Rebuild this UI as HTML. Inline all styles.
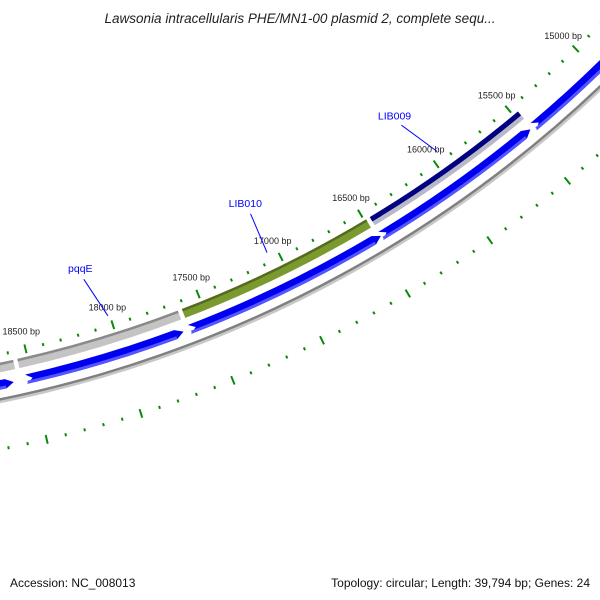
<!DOCTYPE html>
<html><head><meta charset="utf-8"><style>
html,body{margin:0;padding:0;background:#fff;}
svg{display:block;font-family:"Liberation Sans","DejaVu Sans",sans-serif;}
</style></head><body>
<svg id="map" width="600" height="600" viewBox="0 0 600 600">
<text x="300" y="23" text-anchor="middle" font-size="13.5" font-style="italic" fill="#222">Lawsonia intracellularis PHE/MN1-00 plasmid 2, complete sequ...</text>
<g id="layer"></g>
<text x="10" y="587" font-size="12" fill="#111">Accession: NC_008013</text>
<text x="590" y="587" text-anchor="end" font-size="12" fill="#111">Topology: circular; Length: 39,794 bp; Genes: 24</text>
</svg>
<script>
const tickStart = 14300;
const tickEnd = 18900;
const majorTicks = [15000, 15500, 16000, 16500, 17000, 17500, 18000, 18500];
const featureStarts = [15455, 16477, 17625, 18568];
const featureEnds = [16477, 17625, 18568, 19200];
const featureKinds = ["navy", "green", "gray", "gray"];
const cdsStarts = [14300, 15477, 16466, 17648, 18602];
const cdsEnds = [15455, 16466, 17614, 18534, 19200];
const geneNames = ["pqqE", "LIB010", "LIB009"];
const geneLabelBp = [18080, 17045, 16034];
const geneTargetBp = [18011, 17057, 15955];

const CX = -244, CY = -800;
const NS = "http://www.w3.org/2000/svg";
const layer = document.getElementById('layer');
function ang(bp){ return (46 + (bp - 15000) * 4.4 / 500) * Math.PI / 180; }
function P(r, bp){ const a = ang(bp); return [CX + r*Math.cos(a), CY + r*Math.sin(a)]; }
function f(p){ return p[0].toFixed(2)+","+p[1].toFixed(2); }
function mk(tag, attrs){ const e = document.createElementNS(NS, tag); for (const k in attrs) e.setAttribute(k, attrs[k]); layer.appendChild(e); return e; }
function band(r1, r2, b1, b2){
  return "M"+f(P(r2,b1))+" A"+r2+" "+r2+" 0 0 1 "+f(P(r2,b2))+" L"+f(P(r1,b2))+" A"+r1+" "+r1+" 0 0 0 "+f(P(r1,b1))+" Z";
}
function arc(r, b1, b2){ return "M"+f(P(r,b1))+" A"+r+" "+r+" 0 0 1 "+f(P(r,b2)); }

// backbone
let e = mk('path', {d: arc(1226.5, 14000, 19500), stroke: '#c8c8c8', 'stroke-width': 2.5, fill: 'none'});


e = mk('path', {d: arc(1224, 14000, 19500), stroke: '#808080', 'stroke-width': 2.5, fill: 'none'});



// ticks
for (let bp = tickStart; bp <= tickEnd; bp += 100) {
  const major = majorTicks.indexOf(bp) >= 0 || bp % 500 === 0;
  const h = major ? 4.5 : 1.5;
  let t = mk('path', {d: "M"+f(P(1180-h,bp))+" L"+f(P(1180+h,bp)), stroke: '#0a8a0a', 'stroke-width': 2});
  
  
  t = mk('path', {d: "M"+f(P(1273-h,bp))+" L"+f(P(1273+h,bp)), stroke: '#0a8a0a', 'stroke-width': 2});
  
  
}
majorTicks.forEach(bp => {
  const p = P(1162, bp);
  const t = mk('text', {x: p[0].toFixed(1), y: (p[1]+3).toFixed(1), 'text-anchor': 'middle', 'font-size': 9, fill: '#222'});
  t.textContent = bp + " bp";
  
  
});

// feature track
const defs = document.createElementNS(NS, 'defs');
document.getElementById('map').insertBefore(defs, layer);
defs.innerHTML = '';
featureStarts.forEach((s, i) => {
  const k = featureKinds[i];
  const a = 0.15;
  const base = band(1188, 1197.5, s + a*100/4.4*0.0 + 12, featureEnds[i] - 12);
  const cols = k === 'navy' ? ['#000080', '#b8b8c8'] : k === 'green' ? ['#556b1f', '#7a9a30'] : ['#8a8a8a', '#c4c4c4'];
  let p = mk('path', {d: band(1188, 1197.5, s + 12, featureEnds[i] - 12), fill: cols[1]});
  
  
  p = mk('path', {d: band(1188, k === 'navy' ? 1193 : 1190.5, s + 12, featureEnds[i] - 12), fill: cols[0]});
  
  
});

// CDS track (arrows pointing to lower bp end)
cdsStarts.forEach((s, i) => {
  const en = cdsEnds[i];
  const r1 = 1205, r2 = 1214.5, rm = (r1 + r2) / 2, h = 45;
  const d = "M"+f(P(rm, s))+" L"+f(P(r2, s+h))+" A"+r2+" "+r2+" 0 0 1 "+f(P(r2, en))+
            " L"+f(P(rm, en - h*0.8))+" L"+f(P(r1, en))+" A"+r1+" "+r1+" 0 0 0 "+f(P(r1, s+h))+" Z";
  let p = mk('path', {d: d, fill: '#0000f0'});
  
  
  p = mk('path', {d: band(1211.5, 1214.5, s + h, en - 5), fill: '#5555ff'});
  
  
});

// gene labels
geneNames.forEach((n, i) => {
  const a = P(1128, geneLabelBp[i]), b = P(1170, geneTargetBp[i]);
  let l = mk('path', {d: "M"+f(a)+" L"+f(b), stroke: '#0000ff', 'stroke-width': 1});
  
  
  const p = P(1116, geneLabelBp[i]);
  const t = mk('text', {x: p[0].toFixed(1), y: (p[1]+4).toFixed(1), 'text-anchor': 'middle', 'font-size': 10.5, fill: '#0000ff'});
  t.textContent = n;
  
  
});
</script>
</body></html>
